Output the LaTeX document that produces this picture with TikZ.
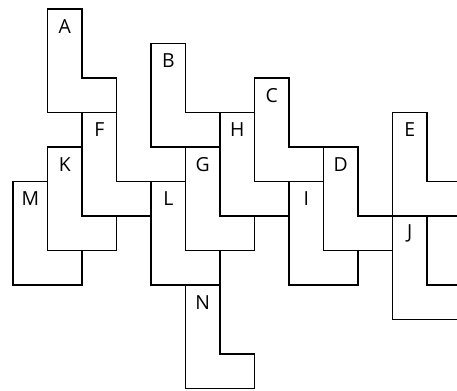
\documentclass[tikz,border=0pt]{standalone}
\usepackage{fontspec}
\setmainfont{Open Sans}
\usepackage{tikz}

\begin{document}
\begin{tikzpicture}[
  x=1cm, y=-1cm,
  piece/.style={draw=black, line width=1.1pt, line join=miter},
  letter/.style={font=\fontsize{16}{19}\selectfont, inner sep=0pt},
  lpiece/.pic={
    \draw[piece] (0,0) -- (1,0) -- (1,2) -- (2,2) -- (2,3) -- (0,3) -- cycle;
    \node[letter] (-lbl) at (0.5,0.5) {#1};
  },
]
\useasboundingbox (-0.38,-0.26) rectangle (12.87,11.05);
\clip (-0.38,-0.26) rectangle (12.87,11.05);

%% --- haut ---
\pic (pA) at (1,0)  {lpiece=A};
\pic (pB) at (4,1)  {lpiece=B};
\pic (pC) at (7,2)  {lpiece=C};
\pic (pE) at (11,3) {lpiece=E};

%% --- milieu ---
\pic (pF) at (2,3)  {lpiece=F};
\pic (pH) at (6,3)  {lpiece=H};
\pic (pK) at (1,4)  {lpiece=K};
\pic (pG) at (5,4)  {lpiece=G};
\pic (pD) at (9,4)  {lpiece=D};

%% --- bas ---
\pic (pM) at (0,5)  {lpiece=M};
\pic (pL) at (4,5)  {lpiece=L};
\pic (pI) at (8,5)  {lpiece=I};
\pic (pJ) at (11,6) {lpiece=J};
\pic (pN) at (5,8)  {lpiece=N};
\end{tikzpicture}
\end{document}
